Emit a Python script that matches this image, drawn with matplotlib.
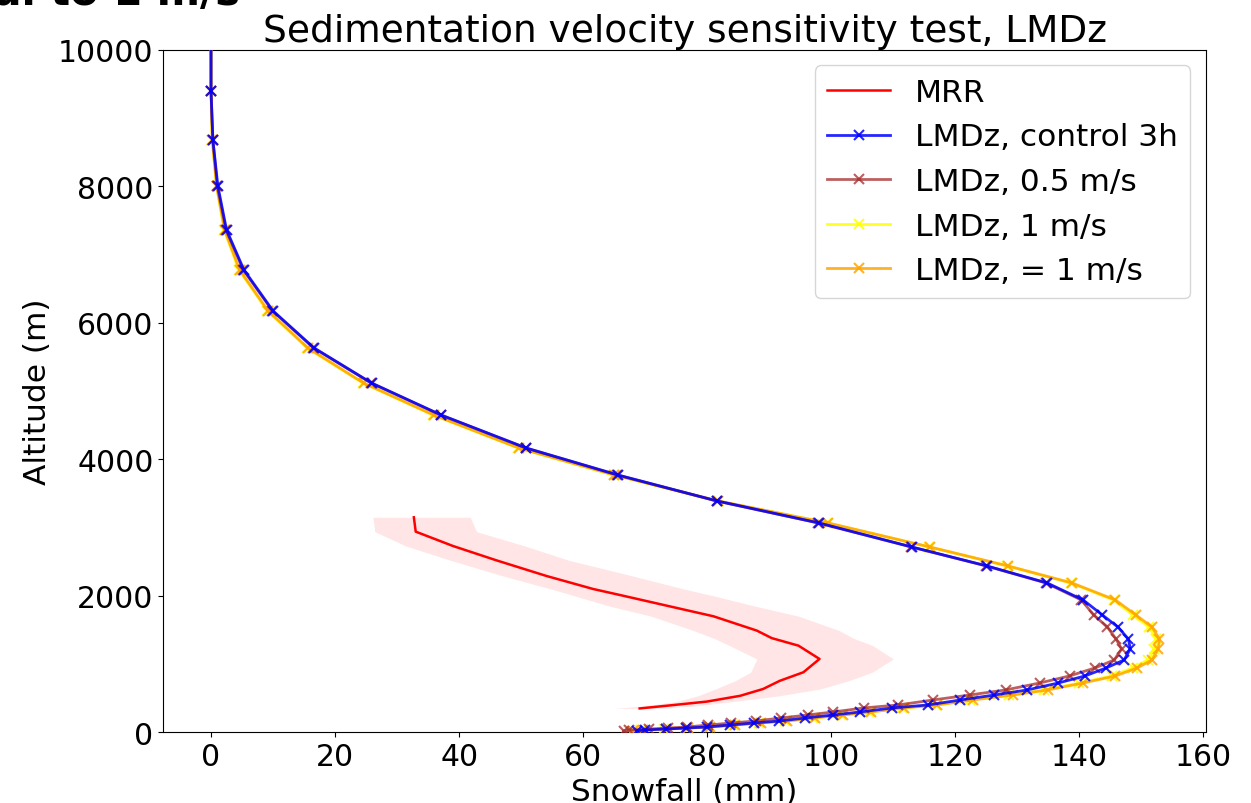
import numpy as np
import matplotlib
matplotlib.use("Agg")
import matplotlib.pyplot as plt

# ---------------- data ----------------
# MRR observations (altitude in m, snowfall in mm)
mrr_alt = [3150, 2940, 2730, 2520, 2290, 2100, 2000, 1855, 1700, 1490, 1380,
           1270, 1075, 880, 755, 635, 535, 450, 390, 350]
mrr_mean = [32.7, 33.0, 39.0, 46.0, 54.1, 61.6, 66.5, 73.5, 81.0, 88.0, 90.4,
            94.7, 98.1, 95.5, 91.7, 89.0, 85.3, 79.9, 73.5, 69.1]
mrr_lo = [26.1, 26.4, 31.4, 38.6, 47.1, 54.8, 58.6, 64.0, 71.0, 77.8, 81.0,
          83.6, 88.0, 87.0, 84.5, 81.3, 78.5, 74.9, 70.2, 65.0]
mrr_hi = [41.8, 42.8, 50.6, 57.7, 68.0, 76.2, 81.0, 87.4, 94.8, 101.3, 103.5,
          106.7, 110.0, 106.6, 102.8, 98.2, 91.6, 84.1, 78.5, 72.2]

# LMDz model levels (m)
lmdz_alt = [20, 34, 48, 63, 78, 107, 137, 166, 210, 254, 298, 357, 401, 474,
            547, 621, 723, 826, 943, 1060, 1221, 1367, 1543, 1719, 1939, 2188,
            2437, 2715, 3067, 3389, 3770, 4166, 4649, 5117, 5632, 6174, 6775,
            7361, 8005, 8679, 9396, 10300]

ctrl = [68.7, 69.9, 73.3, 76.6, 80.0, 83.7, 87.6, 91.6, 95.8, 100.3, 104.6,
        109.8, 115.6, 120.8, 126.3, 131.6, 136.6, 140.9, 144.3, 147.2, 148.2,
        147.9, 146.2, 143.7, 140.6, 134.8, 125.1, 113.0, 98.0, 81.6, 65.6,
        50.8, 37.1, 25.9, 16.6, 10.0, 5.3, 2.5, 1.1, 0.3, 0.0, 0.0]

v05 = [66.5, 67.4, 70.6, 73.6, 76.7, 80.2, 83.9, 87.8, 91.9, 96.2, 100.3,
       105.2, 110.8, 116.4, 122.3, 128.1, 133.6, 138.4, 142.5, 145.6, 146.8,
       145.9, 144.5, 142.3, 140.3, 134.6, 125.0, 112.9, 97.9, 81.5, 65.5,
       50.7, 37.0, 25.8, 16.5, 9.9, 5.2, 2.4, 1.0, 0.3, 0.0, 0.0]

v1 = [67.8, 69.4, 73.0, 76.6, 80.2, 84.2, 88.3, 92.6, 97.0, 101.6, 106.1,
      111.4, 116.8, 122.3, 128.7, 134.3, 140.0, 145.2, 148.6, 151.0, 152.1,
      152.4, 151.2, 148.6, 145.5, 138.6, 128.4, 115.8, 99.3, 81.7, 64.9,
      49.5, 35.8, 24.5, 15.5, 9.1, 4.5, 2.1, 0.9, 0.2, 0.0, 0.0]

v1b = [68.0, 69.7, 73.3, 76.9, 80.5, 84.5, 88.6, 92.9, 97.3, 101.9, 106.4,
       111.7, 117.1, 122.8, 129.3, 134.9, 140.6, 145.8, 149.3, 151.7, 152.7,
       152.9, 151.7, 149.1, 145.8, 138.8, 128.5, 115.9, 99.5, 81.8, 65.0,
       49.6, 35.9, 24.6, 15.6, 9.2, 4.6, 2.2, 0.9, 0.2, 0.0, 0.0]

labels = ["MRR", "LMDz, control 3h", "LMDz, 0.5 m/s", "LMDz, 1 m/s", "LMDz, = 1 m/s"]

# ---------------- figure ----------------
fig = plt.figure(figsize=(12.51, 8.04), dpi=100)
ax = fig.add_axes([0.1305, 0.0879, 0.8335, 0.849])

ax.fill_betweenx(mrr_alt, mrr_lo, mrr_hi, color="red", alpha=0.1, linewidth=0)
ax.plot(mrr_mean, mrr_alt, color="red", lw=1.8, label=labels[0], zorder=3)
ax.plot(ctrl, lmdz_alt, color="blue", marker="x", ms=7, mew=1.5, lw=2,
        alpha=0.85, label=labels[1], zorder=6)
ax.plot(v05, lmdz_alt, color="brown", marker="x", ms=7, mew=1.5, lw=2,
        alpha=0.75, label=labels[2], zorder=5)
ax.plot(v1, lmdz_alt, color="yellow", marker="x", ms=7, mew=1.5, lw=2,
        alpha=0.85, label=labels[3], zorder=4)
ax.plot(v1b, lmdz_alt, color="orange", marker="x", ms=7, mew=1.5, lw=2,
        alpha=0.85, label=labels[4], zorder=4.5)

ax.set_xlim(-7.7, 160.4)
ax.set_ylim(0, 10000)
ax.set_xticks(np.arange(0, 161, 20))
ax.set_yticks(np.arange(0, 10001, 2000))
ax.tick_params(labelsize=21.5)
ax.set_xlabel("Snowfall (mm)", fontsize=22.5)
ax.set_ylabel("Altitude (m)", fontsize=22.5)
ax.set_title("Sedimentation velocity sensitivity test, LMDz", fontsize=27)
ax.legend(loc="upper right", fontsize=22.5)

fig.text(240 / 1251, 1 - 5 / 804, "Sedimentation velocity equal to 1 m/s",
         ha="right", va="baseline", fontsize=30, fontweight="bold")

fig.savefig("out.png", dpi=100)
